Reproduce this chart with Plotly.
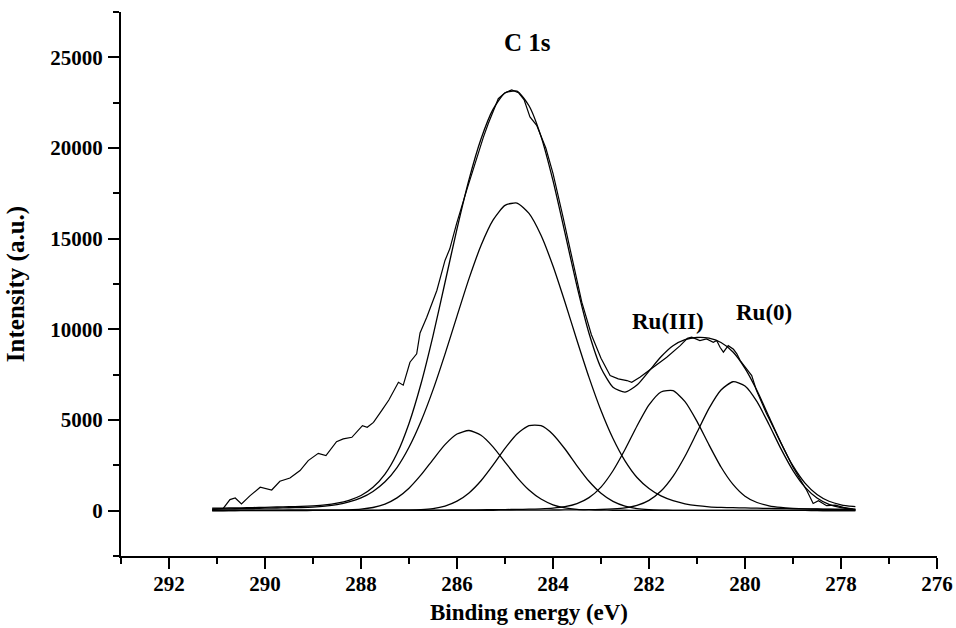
import plotly.graph_objects as go

# ---- data ----
# common energy grid for fitted curves (eV)
be_fit = [291.1, 291.0, 290.75, 290.5, 290.25, 290.0, 289.75, 289.5, 289.25, 289.0,
          288.75, 288.5, 288.25, 288.0, 287.75, 287.5, 287.25, 287.0, 286.75, 286.5,
          286.25, 286.0, 285.75, 285.5, 285.25, 285.0, 284.75, 284.5, 284.25, 284.0,
          283.75, 283.5, 283.25, 283.0, 282.75, 282.5, 282.25, 282.0, 281.75, 281.5,
          281.25, 281.0, 280.75, 280.5, 280.25, 280.0, 279.75, 279.5, 279.25, 279.0,
          278.75, 278.5, 278.25, 278.0, 277.75, 277.7]

c_main = [93, 96, 102, 110, 120, 135, 147, 161, 174, 199,
          247, 334, 479, 701, 1059, 1590, 2378, 3495, 4930, 6660,
          8635, 10730, 12795, 14620, 16020, 16835, 16965, 16390, 15185, 13490,
          11490, 9385, 7350, 5520, 3975, 2745, 1830, 1225, 812, 550,
          380, 273, 210, 178, 163, 150, 138, 125, 113, 105,
          98, 91, 84, 79, 74, 73]

c_high = [15, 15, 16, 17, 18, 19, 20, 22, 24, 26,
          28, 34, 48, 85, 175, 365, 705, 1240, 1970, 2820,
          3640, 4225, 4420, 4155, 3520, 2680, 1840, 1140, 640, 325,
          155, 72, 40, 28, 24, 22, 21, 20, 19, 18,
          17, 16, 15, 14, 14, 13, 13, 12, 12, 11,
          11, 10, 10, 10, 10, 10]

c_low = [10, 10, 10, 11, 11, 12, 12, 13, 13, 14,
         15, 16, 17, 18, 20, 22, 26, 34, 55, 115,
         255, 525, 980, 1650, 2510, 3435, 4230, 4690, 4685, 4205,
         3400, 2475, 1620, 958, 512, 250, 114, 52, 28, 20,
         18, 17, 16, 15, 14, 14, 13, 13, 12, 12,
         11, 11, 10, 10, 10, 10]

ru_iii = [10, 10, 11, 11, 12, 12, 13, 13, 14, 15,
          16, 17, 18, 19, 20, 22, 24, 26, 28, 31,
          34, 38, 42, 47, 53, 60, 68, 80, 100, 140,
          220, 390, 720, 1300, 2200, 3370, 4670, 5830, 6545, 6615,
          6015, 4925, 3630, 2410, 1450, 800, 450, 270, 180, 130,
          100, 80, 65, 55, 48, 47]

ru_0 = [8, 8, 8, 9, 9, 9, 10, 10, 10, 11,
        11, 12, 12, 13, 13, 14, 15, 16, 17, 18,
        19, 20, 21, 22, 24, 26, 28, 30, 33, 36,
        40, 45, 52, 65, 95, 150, 290, 570, 1080, 1890,
        3000, 4320, 5640, 6655, 7110, 6875, 6010, 4755, 3405, 2210,
        1300, 700, 350, 170, 90, 82]

envelope = [136, 139, 147, 158, 170, 187, 202, 219, 235, 265,
            317, 413, 574, 836, 1287, 2013, 3148, 4811, 7000, 9644,
            12583, 15538, 18258, 20494, 22127, 23036, 23131, 22330, 20643, 18196,
            15305, 12367, 9782, 7871, 6806, 6537, 6925, 7697, 8484, 9093,
            9430, 9551, 9511, 9272, 8751, 7852, 6624, 5175, 3722, 2468,
            1520, 892, 519, 324, 232, 222]

# measured spectrum
be_raw = [291.10, 290.97, 290.87, 290.73, 290.62, 290.49, 290.31, 290.10, 289.86, 289.69,
          289.48, 289.27, 289.10, 288.89, 288.73, 288.51, 288.37, 288.19, 287.97, 287.87,
          287.74, 287.57, 287.42, 287.22, 287.12, 286.98, 286.84, 286.77, 286.63, 286.42,
          286.25, 286.15, 286.01, 285.80, 285.59, 285.45, 285.35, 285.14, 285.00, 284.86,
          284.72, 284.60, 284.48, 284.34, 284.15, 284.00, 283.80, 283.60, 283.40, 283.20,
          283.00, 282.81, 282.64, 282.46, 282.36, 282.19, 281.91, 281.63, 281.35, 281.20,
          281.11, 280.94, 280.80, 280.66, 280.59, 280.52, 280.45, 280.35, 280.24, 280.17,
          280.10, 279.86, 279.76, 279.55, 279.27, 279.00, 278.71, 278.58, 278.47, 278.30,
          278.12, 277.95, 277.74]
raw = [60, 90, 130, 610, 700, 370, 830, 1290, 1140, 1620,
       1800, 2210, 2760, 3160, 3035, 3800, 3955, 4045, 4690, 4600,
       4870, 5520, 6100, 7080, 6920, 8185, 8650, 9800, 10670, 12140,
       13800, 14440, 15820, 17660, 19500, 20600, 21340, 22720, 23050, 23200,
       23050, 22650, 21710, 21250, 20000, 18600, 16300, 13900, 11500, 9700,
       8400, 7450, 7270, 7175, 7080, 7360, 7910, 8460, 9100, 9500,
       9570, 9380, 9470, 9290, 9380, 9010, 8740, 9100, 8900, 8650,
       8280, 7450, 6620, 5340, 3860, 2390, 1100, 400, 550, 276,
       310, 180, 90]

x_ticks = [292, 290, 288, 286, 284, 282, 280, 278, 276]
y_ticks = [0, 5000, 10000, 15000, 20000, 25000]

labels = ["C 1s", "Ru(III)", "Ru(0)"]
label_x = [284.54, 281.6, 279.6]
label_y = [25800, 10450, 10950]

FONT = "Liberation Serif"

fig = go.Figure()
for comp in [c_main, c_high, c_low, ru_iii, ru_0]:
    fig.add_trace(go.Scatter(x=be_fit, y=comp, mode="lines",
                             line=dict(color="black", width=1.3, shape="spline", smoothing=0.6),
                             showlegend=False, hoverinfo="skip"))
fig.add_trace(go.Scatter(x=be_fit, y=envelope, mode="lines",
                         line=dict(color="black", width=1.3, shape="spline", smoothing=0.6),
                         showlegend=False))
fig.add_trace(go.Scatter(x=be_raw, y=raw, mode="lines",
                         line=dict(color="black", width=1.2),
                         showlegend=False))

for t, lx, ly, fs in zip(labels, label_x, label_y, [25, 23, 23]):
    fig.add_annotation(x=lx, y=ly, text="<b>%s</b>" % t, showarrow=False,
                       font=dict(family=FONT, size=fs, color="black"))

axis_common = dict(showline=True, linecolor="black", linewidth=2, ticks="outside",
                   ticklen=11, tickwidth=2, tickcolor="black", showgrid=False,
                   zeroline=False, mirror=False,
                   tickfont=dict(family=FONT, size=21, color="black"))

fig.update_xaxes(range=[293, 276], tickvals=x_ticks,
                 ticktext=["<b>%d</b>" % v for v in x_ticks],
                 minor=dict(dtick=1, tick0=276, ticklen=6, tickwidth=2, tickcolor="black", ticks="outside"),
                 title=dict(text="<b>Binding energy (eV)</b>", font=dict(family=FONT, size=23, color="black"),
                            standoff=9),
                 ticklabelstandoff=-3,
                 **axis_common)
fig.update_yaxes(range=[-2500, 27500], tickvals=y_ticks,
                 ticktext=["<b>%d</b>" % v for v in y_ticks],
                 minor=dict(dtick=2500, tick0=-2500, ticklen=6, tickwidth=2, tickcolor="black", ticks="outside"),
                 title=dict(text="<b>Intensity (a.u.)</b>", font=dict(family=FONT, size=25, color="black"),
                            standoff=19),
                 ticklabelstandoff=1,
                 **axis_common)

fig.update_layout(width=956, height=628, margin=dict(l=121, r=19, t=12, b=72, autoexpand=False),
                  plot_bgcolor="white", paper_bgcolor="white")

# remove the page's default body margin so the figure fills the window exactly
fig.write_html("out.html", config={"displayModeBar": False},
               post_script="document.body.style.margin='0';document.body.style.overflow='hidden';")
